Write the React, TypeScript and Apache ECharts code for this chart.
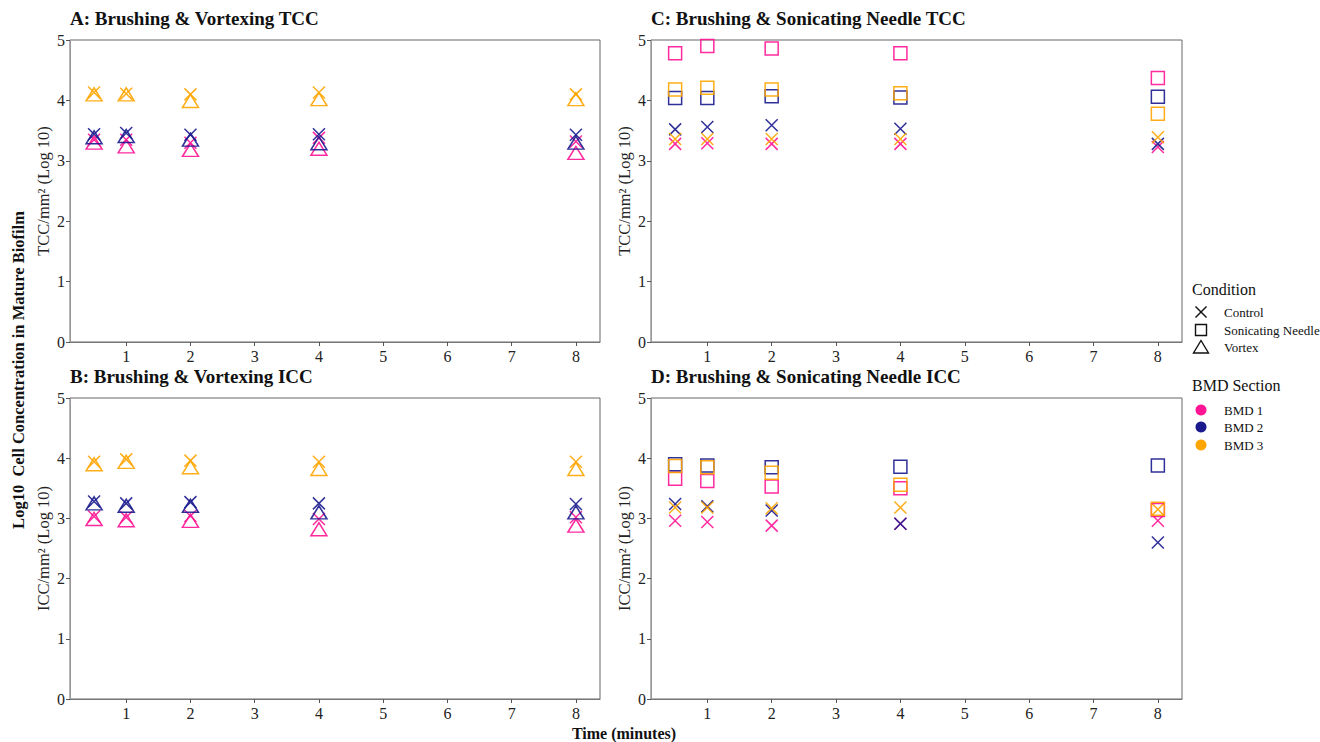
import React, { useEffect, useRef } from "react";
import * as echarts from "echarts";

// ---- data ----
const TIMES = [0.5, 1, 2, 4, 8];
const X_TICKS = [1, 2, 3, 4, 5, 6, 7, 8];
const BMD_NAMES = ["BMD 1", "BMD 2", "BMD 3"];
const BMD_COLORS = ["#FF1493", "#1A1A8E", "#FFA500"];
const CONDITIONS = ["Control", "Sonicating Needle", "Vortex"];

// Panel A: Brushing & Vortexing TCC
const A_CONTROL_BMD1 = [3.35, 3.35, 3.3, 3.38, 3.32];
const A_CONTROL_BMD2 = [3.44, 3.46, 3.43, 3.44, 3.43];
const A_CONTROL_BMD3 = [4.13, 4.11, 4.1, 4.13, 4.1];
const A_VORTEX_BMD1 = [3.3, 3.24, 3.18, 3.2, 3.13];
const A_VORTEX_BMD2 = [3.39, 3.41, 3.35, 3.29, 3.3];
const A_VORTEX_BMD3 = [4.1, 4.1, 3.99, 4.02, 4.02];

// Panel B: Brushing & Vortexing ICC
const B_CONTROL_BMD1 = [3.03, 3.02, 3.04, 2.99, 3.02];
const B_CONTROL_BMD2 = [3.28, 3.25, 3.27, 3.25, 3.24];
const B_CONTROL_BMD3 = [3.94, 3.98, 3.96, 3.94, 3.94];
const B_VORTEX_BMD1 = [2.99, 2.97, 2.96, 2.82, 2.88];
const B_VORTEX_BMD2 = [3.25, 3.21, 3.21, 3.1, 3.1];
const B_VORTEX_BMD3 = [3.9, 3.94, 3.85, 3.82, 3.82];

// Panel C: Brushing & Sonicating Needle TCC
const C_CONTROL_BMD1 = [3.28, 3.29, 3.28, 3.28, 3.23];
const C_CONTROL_BMD2 = [3.52, 3.56, 3.59, 3.53, 3.28];
const C_CONTROL_BMD3 = [3.36, 3.36, 3.36, 3.36, 3.39];
const C_SONIC_BMD1 = [4.78, 4.9, 4.86, 4.78, 4.37];
const C_SONIC_BMD2 = [4.04, 4.04, 4.07, 4.05, 4.06];
const C_SONIC_BMD3 = [4.18, 4.21, 4.18, 4.12, 3.78];

// Panel D: Brushing & Sonicating Needle ICC
const D_CONTROL_BMD1 = [2.96, 2.94, 2.88, 2.91, 2.96];
const D_CONTROL_BMD2 = [3.24, 3.2, 3.13, 2.91, 2.6];
const D_CONTROL_BMD3 = [3.18, 3.18, 3.17, 3.18, 3.15];
const D_SONIC_BMD1 = [3.66, 3.62, 3.53, 3.5, 3.14];
const D_SONIC_BMD2 = [3.9, 3.88, 3.85, 3.86, 3.88];
const D_SONIC_BMD3 = [3.87, 3.85, 3.76, 3.56, 3.16];

const PANEL_TITLES = [
  "A: Brushing & Vortexing TCC",
  "B: Brushing & Vortexing ICC",
  "C: Brushing & Sonicating Needle TCC",
  "D: Brushing & Sonicating Needle ICC",
];
const PANEL_YNAMES = [
  "TCC/mm\u00B2 (Log 10)",
  "ICC/mm\u00B2 (Log 10)",
  "TCC/mm\u00B2 (Log 10)",
  "ICC/mm\u00B2 (Log 10)",
];

const PANEL_DATA = [
  [
    ["Control", [A_CONTROL_BMD1, A_CONTROL_BMD2, A_CONTROL_BMD3]],
    ["Vortex", [A_VORTEX_BMD1, A_VORTEX_BMD2, A_VORTEX_BMD3]],
  ],
  [
    ["Control", [B_CONTROL_BMD1, B_CONTROL_BMD2, B_CONTROL_BMD3]],
    ["Vortex", [B_VORTEX_BMD1, B_VORTEX_BMD2, B_VORTEX_BMD3]],
  ],
  [
    ["Control", [C_CONTROL_BMD1, C_CONTROL_BMD2, C_CONTROL_BMD3]],
    ["Sonicating Needle", [C_SONIC_BMD1, C_SONIC_BMD2, C_SONIC_BMD3]],
  ],
  [
    ["Control", [D_CONTROL_BMD1, D_CONTROL_BMD2, D_CONTROL_BMD3]],
    ["Sonicating Needle", [D_SONIC_BMD1, D_SONIC_BMD2, D_SONIC_BMD3]],
  ],
] as [string, number[][]][][];

// ---- layout ----
const GRIDS = [
  { left: 70, top: 40, width: 530, height: 302 },
  { left: 70, top: 398, width: 530, height: 301 },
  { left: 651, top: 40, width: 531, height: 302 },
  { left: 651, top: 398, width: 531, height: 301 },
];

const FONT = "'Liberation Serif', 'Times New Roman', serif";

const SYMBOLS: Record<string, any> = {
  Control: { symbol: "path://M0,0L10,10M10,0L0,10", size: 12 },
  "Sonicating Needle": { symbol: "rect", size: 13 },
  Vortex: { symbol: "triangle", size: [16, 13] },
};

function buildOption() {
  const series: any[] = [];
  PANEL_DATA.forEach((panel, pi) => {
    panel.forEach(([cond, groups]) => {
      groups.forEach((vals, bi) => {
        series.push({
          type: "scatter",
          name: `${PANEL_TITLES[pi]} ${cond} ${BMD_NAMES[bi]}`,
          xAxisIndex: pi,
          yAxisIndex: pi,
          symbol: SYMBOLS[cond].symbol,
          symbolSize: SYMBOLS[cond].size,
          itemStyle: {
            color: "rgba(0,0,0,0)",
            borderColor: BMD_COLORS[bi],
            borderWidth: 1.5,
            opacity: 0.9,
          },
          emphasis: { disabled: true },
          data: TIMES.map((t, i) => [t, vals[i]]),
        });
      });
    });
  });

  const grid = GRIDS.map((g) => ({
    ...g,
    show: true,
    borderColor: "#666",
    borderWidth: 1,
    backgroundColor: "#fff",
  }));

  const xAxis = GRIDS.map((_, i) => ({
    type: "value",
    gridIndex: i,
    min: 0.125,
    max: 8.375,
    axisLine: { show: true, onZero: false, lineStyle: { color: "#777", width: 1 } },
    axisTick: { show: true, customValues: X_TICKS, length: 4, lineStyle: { color: "#555" } },
    axisLabel: {
      customValues: X_TICKS,
      fontFamily: FONT,
      fontSize: 16,
      color: "#222",
      margin: 6,
    },
    splitLine: { show: false },
  }));

  const yAxis = GRIDS.map((_, i) => ({
    type: "value",
    gridIndex: i,
    min: 0,
    max: 5,
    interval: 1,
    name: PANEL_YNAMES[i],
    nameLocation: "middle",
    nameGap: 18,
    nameTextStyle: { fontFamily: FONT, fontSize: 16.5, color: "#222" },
    axisLine: { show: true, onZero: false, lineStyle: { color: "#999", width: 1 } },
    axisTick: { show: true, length: 4, lineStyle: { color: "#555" } },
    axisLabel: { fontFamily: FONT, fontSize: 16, color: "#222", margin: 5 },
    splitLine: { show: false },
  }));

  const graphic: any[] = [];
  PANEL_TITLES.forEach((t, i) => {
    graphic.push({
      type: "text",
      x: GRIDS[i].left,
      y: GRIDS[i].top - 22,
      style: {
        text: t,
        fontFamily: FONT,
        fontWeight: "bold",
        fontSize: 19,
        fill: "#111",
        textAlign: "left",
        textVerticalAlign: "middle",
      },
    });
  });
  graphic.push({
    type: "text",
    x: 18,
    y: 370,
    rotation: Math.PI / 2,
    style: {
      text: "Log10  Cell Concentration in Mature Biofilm",
      fontFamily: FONT,
      fontWeight: "bold",
      fontSize: 16.5,
      fill: "#111",
      textAlign: "center",
      textVerticalAlign: "middle",
    },
  });
  graphic.push({
    type: "text",
    x: 624,
    y: 733,
    style: {
      text: "Time (minutes)",
      fontFamily: FONT,
      fontWeight: "bold",
      fontSize: 16,
      fill: "#111",
      textAlign: "center",
      textVerticalAlign: "middle",
    },
  });

  // legend: Condition
  const LX = 1201;
  const TX = 1224;
  graphic.push({
    type: "text",
    x: 1192,
    y: 289,
    style: { text: "Condition", fontFamily: FONT, fontSize: 16, fill: "#111", textVerticalAlign: "middle" },
  });
  const condY = [312, 330, 347];
  graphic.push(
    { type: "line", shape: { x1: LX - 5.5, y1: condY[0] - 5.5, x2: LX + 5.5, y2: condY[0] + 5.5 }, style: { stroke: "#111", lineWidth: 1.4 } },
    { type: "line", shape: { x1: LX + 5.5, y1: condY[0] - 5.5, x2: LX - 5.5, y2: condY[0] + 5.5 }, style: { stroke: "#111", lineWidth: 1.4 } },
    { type: "rect", shape: { x: LX - 5.5, y: condY[1] - 5.5, width: 11, height: 11 }, style: { fill: "none", stroke: "#111", lineWidth: 1.4 } },
    { type: "polygon", shape: { points: [[LX - 7.5, condY[2] + 6], [LX + 7.5, condY[2] + 6], [LX, condY[2] - 6.5]] }, style: { fill: "none", stroke: "#111", lineWidth: 1.4 } }
  );
  CONDITIONS.forEach((c, i) => {
    graphic.push({
      type: "text",
      x: TX,
      y: condY[i],
      style: { text: c, fontFamily: FONT, fontSize: 13, fill: "#111", textVerticalAlign: "middle" },
    });
  });

  // legend: BMD Section
  graphic.push({
    type: "text",
    x: 1192,
    y: 385,
    style: { text: "BMD Section", fontFamily: FONT, fontSize: 16, fill: "#111", textVerticalAlign: "middle" },
  });
  const bmdY = [410, 427, 445];
  BMD_NAMES.forEach((b, i) => {
    graphic.push({
      type: "circle",
      shape: { cx: LX, cy: bmdY[i], r: 5.5 },
      style: { fill: BMD_COLORS[i] },
    });
    graphic.push({
      type: "text",
      x: TX,
      y: bmdY[i],
      style: { text: b, fontFamily: FONT, fontSize: 13, fill: "#111", textVerticalAlign: "middle" },
    });
  });

  return {
    animation: false,
    backgroundColor: "#fff",
    grid,
    xAxis,
    yAxis,
    series,
    graphic,
  };
}

export default function App() {
  const ref = useRef<HTMLDivElement>(null);
  useEffect(() => {
    if (!ref.current) return;
    const chart = echarts.init(ref.current, undefined, { renderer: "svg" });
    chart.setOption(buildOption() as any);
    return () => chart.dispose();
  }, []);
  return (
    <div
      ref={ref}
      style={{ position: "fixed", left: 0, top: 0, width: 1320, height: 742, background: "#fff" }}
    />
  );
}
